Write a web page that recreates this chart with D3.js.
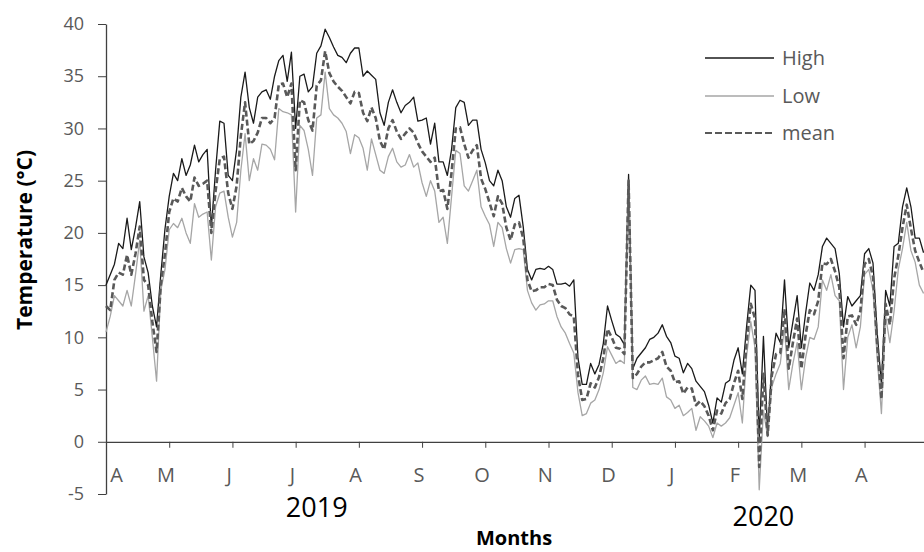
<!DOCTYPE html>
<html>
<head>
<meta charset="utf-8">
<script src="https://cdn.jsdelivr.net/npm/d3@7"></script>
<style>
  body { margin: 0; background: #fff; }
  svg { display: block; font-family: "Open Sans", sans-serif; }
</style>
</head>
<body>
<div id="chart-container"></div>
<script>
// daily temperature, sampled every 2 days from 1 April 2019
var days = d3.range(0, 389, 2);

var high = [
  15.0, 16.0, 17.0, 19.0, 18.5, 21.4, 18.4, 20.5, 23.0, 17.7,
  16.2, 13.0, 11.0, 16.0, 20.4, 23.5, 25.7, 25.0, 27.1, 25.5,
  26.5, 28.4, 26.8, 27.5, 28.0, 20.5, 26.0, 30.7, 30.5, 25.5,
  25.0, 28.0, 33.0, 35.4, 32.0, 30.5, 33.0, 33.5, 33.7, 32.8,
  35.0, 36.5, 37.0, 34.5, 37.3, 30.0, 35.0, 35.2, 33.5, 34.0,
  37.2, 37.9, 39.5, 38.7, 37.8, 37.0, 36.8, 36.3, 37.2, 37.7,
  37.7, 35.0, 35.5, 35.1, 34.7, 31.5, 30.3, 32.5, 33.7, 32.5,
  31.5, 32.2, 32.5, 33.0, 30.7, 30.8, 31.0, 28.5, 30.5, 26.8,
  26.8, 25.5, 28.0, 32.0, 32.7, 32.5, 30.3, 30.8, 30.8, 28.0,
  26.7, 25.0, 24.5, 26.0, 25.0, 22.5, 21.5, 23.3, 23.6, 20.6,
  16.5, 15.5, 16.5, 16.6, 16.5, 16.8, 16.5, 15.1, 15.1, 15.2,
  14.9, 15.5, 8.0, 5.5, 5.5, 7.5, 6.5, 7.4, 9.4, 13.0,
  11.6, 10.3, 10.0, 9.3, 25.6, 7.0, 8.0, 8.5, 9.0, 9.8,
  10.0, 10.4, 11.2, 10.1, 9.5, 8.2, 8.0, 6.6, 7.5, 7.0,
  5.8, 5.3, 4.8, 3.5, 1.8, 4.2, 3.8, 5.6, 5.9, 7.8,
  9.0, 6.5, 11.0, 15.0, 14.5, 0.3, 10.1, 0.8, 7.5, 10.4,
  9.5, 15.5, 9.0, 11.5, 14.0, 9.0, 12.3, 15.2, 14.5, 16.0,
  18.7, 19.5, 19.0, 18.5, 16.1, 11.0, 13.9, 13.0, 13.5, 14.0,
  18.0, 18.5, 17.1, 10.4, 5.5, 14.5, 13.0, 18.7, 19.0, 22.5,
  24.3, 22.5, 19.5, 19.5, 18.1
];

var low = [
  10.5, 12.0, 14.0, 13.5, 13.0, 14.5, 13.0, 16.0, 19.3, 12.5,
  14.0, 10.0, 5.8, 14.5, 16.5, 20.3, 20.9, 20.5, 21.4, 20.0,
  19.0, 22.8, 21.5, 21.8, 22.0, 17.4, 22.5, 23.8, 24.0, 21.5,
  19.6, 21.0, 26.0, 29.5, 25.0, 27.1, 26.0, 28.5, 28.4, 28.0,
  27.0, 31.9, 31.6, 31.5, 31.3, 22.0, 30.3, 29.8, 28.0, 25.5,
  31.0, 31.3, 35.4, 31.9, 31.3, 31.0, 30.5, 29.7, 27.6, 29.4,
  29.1, 28.1, 26.0, 29.0, 27.5, 26.0, 25.7, 27.3, 28.1, 26.8,
  26.3, 26.5, 27.5, 26.3, 26.7, 24.8, 23.5, 25.0, 24.0, 21.0,
  21.5, 19.0, 23.5, 27.9, 27.6, 24.5, 24.0, 25.0, 26.0, 22.5,
  21.6, 20.8, 18.7, 21.0, 20.5, 18.5, 17.1, 18.4, 18.5, 18.4,
  14.5, 13.3, 12.6, 13.1, 13.2, 13.5, 13.5, 12.0, 11.0, 10.4,
  9.4, 8.5, 4.7, 2.5, 2.7, 3.7, 4.0, 5.0, 6.6, 9.1,
  8.3, 7.5, 7.8, 7.5, 24.0, 5.2, 5.0, 5.9, 6.3, 5.5,
  5.6, 5.5, 6.1, 4.3, 4.0, 3.2, 3.5, 2.5, 2.8, 3.2,
  1.1, 2.4, 2.0, 1.5, 0.4, 1.8, 1.5, 1.8, 2.3, 3.5,
  4.7, 1.8, 8.2, 11.5, 9.0, -4.6, 3.0, 0.5, 5.3, 6.5,
  7.5, 11.0, 5.0, 7.5, 9.5, 5.0, 8.0, 10.0, 9.8, 11.0,
  15.5, 14.5, 16.0, 14.0, 13.5, 5.0, 10.0, 11.2, 9.0, 11.0,
  16.0, 16.5, 14.5, 8.0, 2.7, 12.0, 9.5, 12.5, 16.5, 18.5,
  21.0, 18.3, 17.2, 15.0, 14.2
];

var mean = [
  13.0, 12.6, 15.5, 16.2, 16.0, 17.9, 16.0, 18.0, 20.6, 15.5,
  15.0, 11.5, 8.6, 15.0, 18.0, 22.0, 23.3, 23.0, 24.3, 23.5,
  23.0, 25.3, 24.5, 24.7, 25.0, 20.0, 24.0, 27.1, 27.3, 23.8,
  22.3, 24.5, 29.3, 32.5, 28.5, 28.8, 29.6, 31.0, 31.0, 30.5,
  31.0, 34.2, 34.3, 33.0, 34.3, 26.0, 32.7, 32.5, 30.8, 29.8,
  34.1, 34.6, 37.4, 35.3, 34.5, 34.0, 33.6, 33.0, 32.4, 33.5,
  33.4, 31.5, 30.7, 32.0, 31.0, 28.8, 28.0, 30.0, 30.8, 29.7,
  29.0, 29.5, 30.0, 29.6, 28.6, 27.8, 27.3, 26.8, 27.2, 24.0,
  24.1, 22.3, 25.8, 30.0, 30.1, 28.5, 27.2, 27.9, 28.4, 25.2,
  24.2, 22.9, 21.6, 23.5, 22.8, 20.5, 19.3, 20.8, 21.0, 19.5,
  15.5, 14.4, 14.5, 14.8, 14.8, 15.1, 15.0, 13.6, 13.0, 12.8,
  12.2, 12.0, 6.4, 4.0, 4.1, 5.6, 5.2, 6.2, 8.0, 10.8,
  10.0, 9.0, 8.9, 8.4, 25.0, 6.1, 6.5, 7.2, 7.6, 7.6,
  7.8, 8.0, 8.6, 7.2, 6.8, 5.7, 5.8, 4.6, 5.2, 5.1,
  3.5, 3.9, 3.4, 2.5, 1.1, 3.0, 2.7, 3.7, 4.1, 5.6,
  6.8, 4.1, 9.6, 13.2, 11.8, -2.4, 6.5, 0.6, 6.4, 8.4,
  8.5, 12.7, 7.0, 9.5, 11.8, 7.0, 10.2, 12.6, 12.2, 13.5,
  17.1, 17.0, 17.5, 16.3, 14.8, 8.0, 12.0, 12.1, 11.2, 12.5,
  17.0, 17.5, 15.8, 9.2, 4.1, 13.2, 11.2, 15.6, 17.8, 20.5,
  22.7, 20.4, 18.3, 17.2, 16.2
];

var monthLabels = ["A", "M", "J", "J", "A", "S", "O", "N", "D", "J", "F", "M", "A"];
var monthTicks = [0, 30, 60, 90, 120, 150, 180, 210, 240, 270, 300, 330, 360];
var yTicks = [-5, 0, 5, 10, 15, 20, 25, 30, 35, 40];
var years = [{ label: "2019", day: 100 }, { label: "2020", day: 312 }];

var series = [
  { name: "High", values: high, color: "#1a1a1a", width: 1.3, dash: null },
  { name: "Low", values: low, color: "#a6a6a6", width: 1.3, dash: null },
  { name: "mean", values: mean, color: "#595959", width: 2.6, dash: "6,3" }
];

var width = 924, height = 552;
var svg = d3.select("#chart-container").append("svg")
  .attr("width", width)
  .attr("height", height);

var x = d3.scaleLinear().domain([0, 388.2]).range([106, 924]);
var y = d3.scaleLinear().domain([-5, 40]).range([494, 24]);

// y axis
var yAxis = svg.append("g")
  .attr("transform", "translate(" + x(0) + ",0)")
  .call(d3.axisLeft(y).tickValues(yTicks).tickSize(8).tickSizeOuter(0).tickPadding(14)
    .tickFormat(function (d) { return String(d); }));
yAxis.select(".domain").attr("stroke", "#404040").attr("stroke-width", 1.3);
yAxis.selectAll(".tick line").attr("stroke", "#404040");
yAxis.selectAll(".tick text")
  .attr("fill", "#595959")
  .style("font-size", "18px")
  .style("font-family", "'Open Sans', sans-serif");

// x axis at 0
var xAxis = svg.append("g")
  .attr("transform", "translate(0," + y(0) + ")")
  .call(d3.axisBottom(x).tickValues(monthTicks).tickSize(6).tickSizeOuter(0).tickFormat(""));
xAxis.select(".domain").attr("stroke", "#404040").attr("stroke-width", 1.3);
xAxis.selectAll(".tick line").attr("stroke", "#404040");

svg.append("g").selectAll("text")
  .data(monthLabels)
  .enter().append("text")
  .attr("x", function (d, i) { return x(i === 0 ? 5 : monthTicks[i] - 1.5); })
  .attr("y", 482)
  .attr("text-anchor", "middle")
  .attr("fill", "#595959")
  .style("font-size", "20px")
  .text(function (d) { return d; });

svg.append("g").selectAll("text")
  .data(years)
  .enter().append("text")
  .attr("x", function (d) { return x(d.day); })
  .attr("y", function (d, i) { return i === 0 ? 517 : 526; })
  .attr("text-anchor", "middle")
  .attr("fill", "#000")
  .style("font-size", "27px")
  .text(function (d) { return d.label; });

// lines
var line = d3.line()
  .x(function (d, i) { return x(days[i]); })
  .y(function (d) { return y(d); });

svg.append("g").selectAll("path")
  .data(series)
  .enter().append("path")
  .attr("fill", "none")
  .attr("stroke", function (d) { return d.color; })
  .attr("stroke-width", function (d) { return d.width; })
  .attr("stroke-dasharray", function (d) { return d.dash; })
  .attr("stroke-linejoin", "round")
  .attr("d", function (d) { return line(d.values); });

// legend
var legend = svg.append("g").selectAll("g")
  .data(series)
  .enter().append("g")
  .attr("transform", function (d, i) { return "translate(705," + [58, 96, 133][i] + ")"; });
legend.append("line")
  .attr("x1", 0).attr("x2", 69)
  .attr("stroke", function (d) { return d.color; })
  .attr("stroke-width", function (d) { return d.dash ? 2.2 : 1.5; })
  .attr("stroke-dasharray", function (d) { return d.dash ? "7,3" : null; });
legend.append("text")
  .attr("x", 77)
  .attr("y", 7)
  .attr("fill", "#595959")
  .style("font-size", "20px")
  .text(function (d) { return d.name; });

// axis titles
svg.append("text")
  .attr("transform", "translate(32,240) rotate(-90)")
  .attr("text-anchor", "middle")
  .attr("font-weight", "bold")
  .style("font-size", "21px")
  .text("Temperature (°C)");

svg.append("text")
  .attr("x", 514)
  .attr("y", 545)
  .attr("text-anchor", "middle")
  .attr("font-weight", "bold")
  .style("font-size", "20px")
  .text("Months");
</script>
</body>
</html>
